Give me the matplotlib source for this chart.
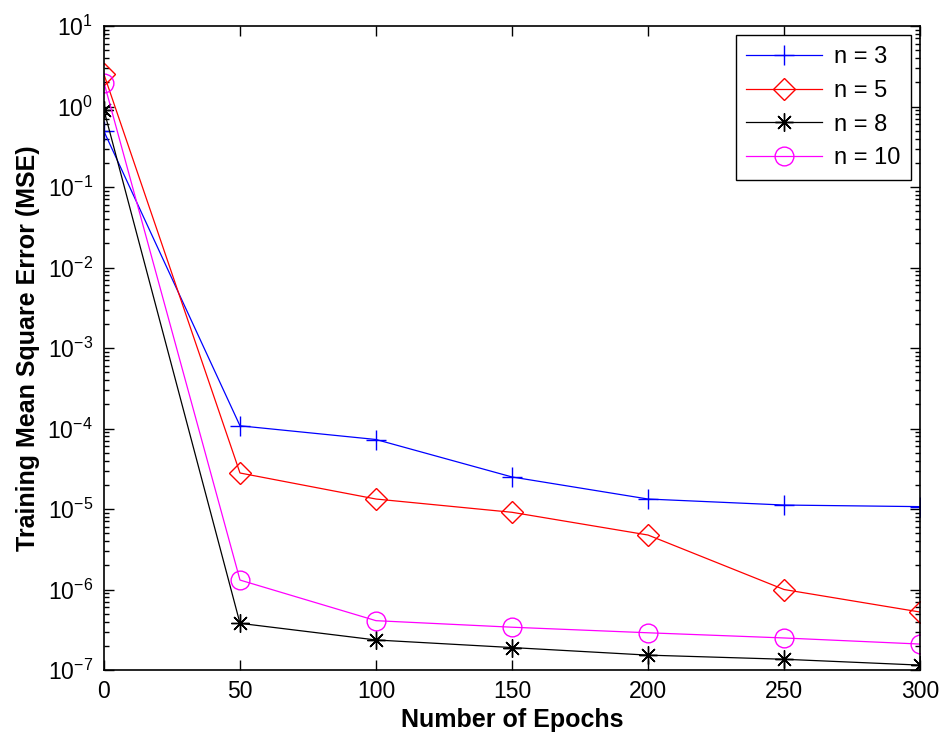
import matplotlib
matplotlib.use("Agg")
import matplotlib.pyplot as plt
from matplotlib.ticker import LogLocator, NullFormatter, FixedLocator

plt.rcParams['font.family'] = ['Liberation Sans', 'DejaVu Sans']
plt.rcParams['axes.unicode_minus'] = False
plt.rcParams['mathtext.default'] = 'regular'

epochs = [0, 50, 100, 150, 200, 250, 300]
mse_n3 = [0.49, 1.08e-4, 7.3e-5, 2.5e-5, 1.33e-5, 1.12e-5, 1.07e-5]
mse_n5 = [2.5, 2.8e-5, 1.33e-5, 9.1e-6, 4.75e-6, 1.0e-6, 5.25e-7]
mse_n8 = [0.9, 3.8e-7, 2.36e-7, 1.9e-7, 1.53e-7, 1.36e-7, 1.15e-7]
mse_n10 = [1.98, 1.31e-6, 4.1e-7, 3.4e-7, 2.9e-7, 2.5e-7, 2.1e-7]
labels = ['n = 3', 'n = 5', 'n = 8', 'n = 10']
x_ticks = [0, 50, 100, 150, 200, 250, 300]

fig = plt.figure(figsize=(9.44, 7.38), dpi=100)
ax = fig.add_axes([104/944, 68/738, (920-104)/944, (670-26)/738])

star = (8, 2, 0)
ax.plot(epochs, mse_n3, color=(0, 0, 1), lw=0.9, marker='+', ms=14, mew=1.0, label=labels[0])
ax.plot(epochs, mse_n5, color=(1, 0, 0), lw=0.9, marker='D', ms=11, mew=1.0, mfc='none', label=labels[1])
ax.plot(epochs, mse_n8, color=(0, 0, 0), lw=0.9, marker=star, ms=13, mew=1.0, label=labels[2])
ax.plot(epochs, mse_n10, color=(1, 0, 1), lw=0.9, marker='o', ms=13.5, mew=1.0, mfc='none', label=labels[3])

ax.set_yscale('log')
ax.set_xlim(0, 300)
ax.set_ylim(1e-7, 1e1)
ax.xaxis.set_major_locator(FixedLocator(x_ticks))
ax.yaxis.set_major_locator(LogLocator(base=10, numticks=20))
ax.yaxis.set_minor_locator(LogLocator(base=10, subs=range(2, 10), numticks=100))
ax.yaxis.set_minor_formatter(NullFormatter())

ax.tick_params(which='both', direction='in', top=True, right=True, labelsize=16.5, width=1.0)
ax.tick_params(which='major', length=7)
ax.tick_params(axis='x', which='major', pad=7)
ax.tick_params(axis='y', which='major', pad=8)
ax.tick_params(which='minor', length=3.5)
for s in ax.spines.values():
    s.set_linewidth(1.2)

ax.set_xlabel('Number of Epochs', fontsize=18, fontweight='bold', labelpad=4)
ax.set_ylabel('Training Mean Square Error (MSE)', fontsize=18, fontweight='bold', labelpad=5)

leg = ax.legend(loc='upper right', fontsize=17, numpoints=1, handlelength=3.2,
                fancybox=False, framealpha=1, edgecolor='black',
                borderaxespad=0.4, labelspacing=0.5, handletextpad=0.5, borderpad=0.45)
leg.get_frame().set_linewidth(1.0)

fig.savefig('out.png', dpi=100)
